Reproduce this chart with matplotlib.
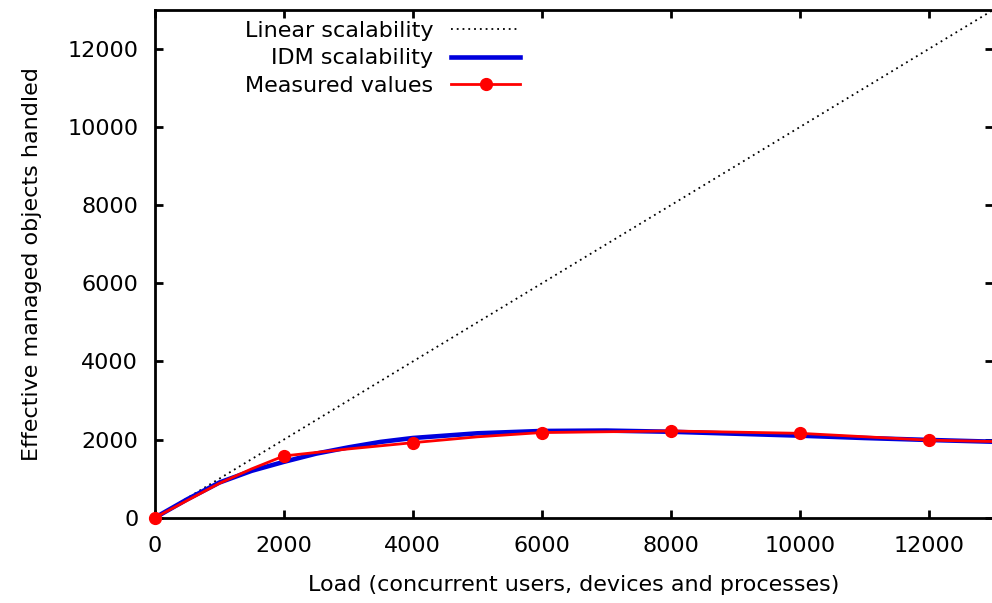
import matplotlib.pyplot as plt

# values
linear_x = [0, 13000]
linear_y = [0, 13000]

idm_x = [0, 500, 1000, 1500, 2000, 2500, 3000, 3500, 4000, 5000, 6000, 7000, 8000, 9000, 10000, 11000, 12000, 13000]
idm_y = [0, 470, 900, 1200, 1430, 1640, 1800, 1940, 2040, 2160, 2220, 2230, 2200, 2150, 2100, 2040, 1990, 1945]

line_x = [0, 500, 1000, 1500, 2000, 3000, 4000, 5000, 6000, 8000, 10000, 12000, 13000]
line_y = [0, 440, 880, 1250, 1580, 1760, 1920, 2070, 2180, 2220, 2160, 1985, 1950]

meas_x = [0, 2000, 4000, 6000, 8000, 10000, 12000]
meas_y = [0, 1580, 1920, 2180, 2220, 2160, 1985]

xticks = [0, 2000, 4000, 6000, 8000, 10000, 12000]
yticks = [0, 2000, 4000, 6000, 8000, 10000, 12000]

plt.rcParams['font.family'] = ['DejaVu Sans']

fig = plt.figure(figsize=(9.92, 6.03), dpi=100)
ax = fig.add_axes([0.1562, 0.1415, 0.845, 0.842])

ax.plot(linear_x, linear_y, color='black', linestyle=(0, (1, 2.2)), linewidth=1.3,
        label='Linear scalability')
ax.plot(idm_x, idm_y, color='#0000dd', linewidth=3.3, label='IDM scalability')
ax.plot(line_x, line_y, color='red', linewidth=2)
ax.plot(meas_x, meas_y, color='red', linestyle='none', marker='o', markersize=8.5,
        clip_on=False, zorder=5)
ax.plot([], [], color='red', linewidth=2, marker='o', markersize=8.5, label='Measured values')

ax.set_xlim(0, 13000)
ax.set_ylim(0, 13000)
ax.set_xticks(xticks)
ax.set_yticks(yticks)
ax.tick_params(direction='in', length=6, width=2, labelsize=16, top=True, right=True)
ax.tick_params(axis='x', pad=13)
ax.tick_params(axis='y', pad=12)
for side in ['left', 'bottom', 'top', 'right']:
    ax.spines[side].set_linewidth(2)

ax.set_xlabel('Load (concurrent users, devices and processes)', fontsize=16, labelpad=14)
ax.set_ylabel('Effective managed objects handled', fontsize=16, labelpad=18)

leg = ax.legend(loc='upper right', bbox_to_anchor=(520 / 992, (603 - 21) / 603),
                bbox_transform=fig.transFigure, markerfirst=False,
                frameon=False, fontsize=16, handlelength=3.1, labelspacing=0.33,
                handletextpad=0.8, borderpad=0, borderaxespad=0)

fig.savefig('out.png', dpi=100)
